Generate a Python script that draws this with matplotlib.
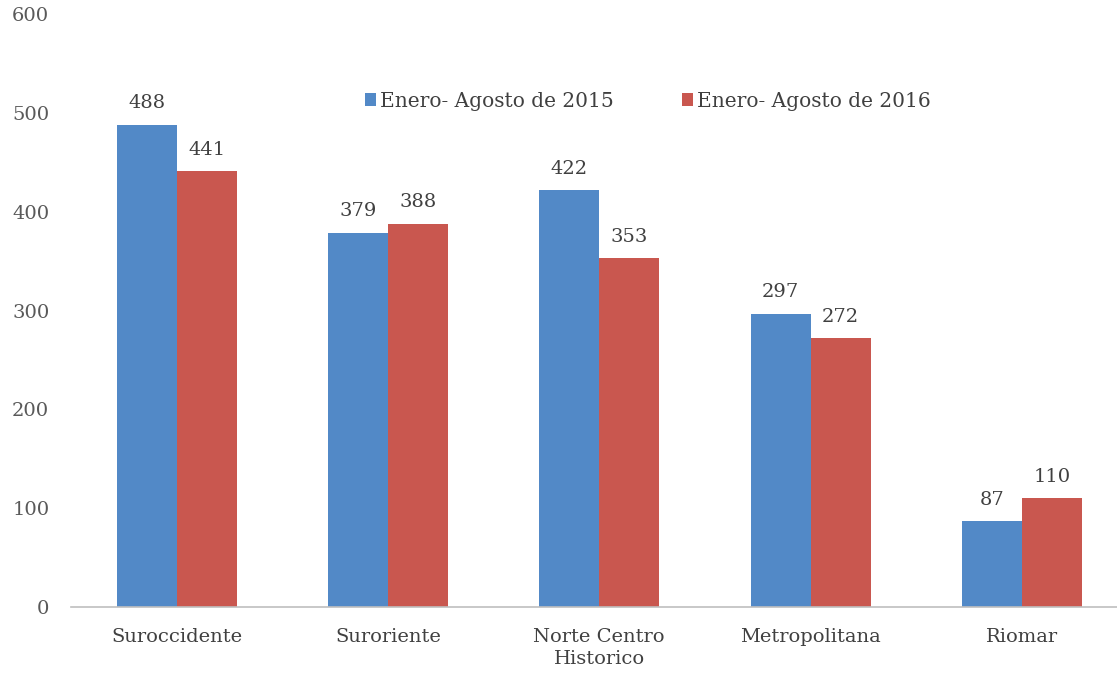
import numpy as np
import matplotlib
matplotlib.use('Agg')
import matplotlib.pyplot as plt

categories = ['Suroccidente', 'Suroriente', 'Norte Centro\nHistorico', 'Metropolitana', 'Riomar']
valores_2015 = [488, 379, 422, 297, 87]
valores_2016 = [441, 388, 353, 272, 110]
series = ['Enero- Agosto de 2015', 'Enero- Agosto de 2016']

plt.rcParams['font.family'] = ['DejaVu Serif']

fig = plt.figure(figsize=(11.17, 6.79), dpi=100)
ax = fig.add_axes([0.064, 0.106, 0.936, 0.873])

x = np.arange(len(categories))
w = 0.284
b1 = ax.bar(x - w / 2, valores_2015, w, color='#5289C7', label=series[0])
b2 = ax.bar(x + w / 2, valores_2016, w, color='#C9574F', label=series[1])

for bars in (b1, b2):
    for r in bars:
        ax.annotate(str(int(r.get_height())), xy=(r.get_x() + r.get_width() / 2, r.get_height()),
                    xytext=(0, 9), textcoords='offset points', ha='center', va='bottom',
                    fontsize=14, color='#404040')

ax.set_xlim(-0.497, 4.45)
ax.set_ylim(0, 600)
ax.set_yticks(np.arange(0, 601, 100))
ax.set_xticks(x)
ax.set_xticklabels(categories, fontsize=14, color='#404040', linespacing=1.3)
ax.tick_params(axis='y', length=0, pad=16, labelsize=14, labelcolor='#595959')
ax.tick_params(axis='x', length=0, pad=15)

for s in ['top', 'right', 'left']:
    ax.spines[s].set_visible(False)
ax.spines['bottom'].set_color('#BFBFBF')
ax.spines['bottom'].set_linewidth(1.2)

fig.legend(loc='center', bbox_to_anchor=(0.58, 0.851), ncol=2, frameon=False,
           handlelength=0.55, handleheight=0.55, handletextpad=0.2, columnspacing=3.4,
           fontsize=14.5, labelcolor='#404040')

plt.savefig('out.png', dpi=100)
